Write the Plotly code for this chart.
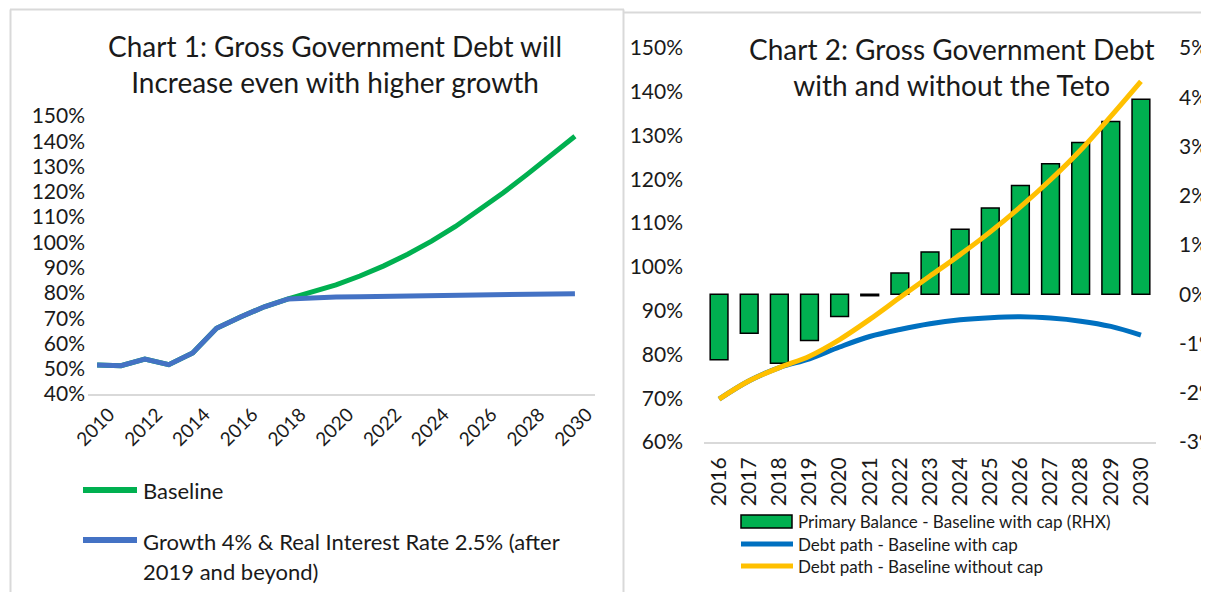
import plotly.graph_objects as go

# ---------------- Data ----------------
years1 = list(range(2010, 2031))
baseline = [51.5, 51.2, 53.8, 51.6, 56.2, 66.0, 70.5, 74.5, 77.6,
            80.2, 83.2, 86.7, 90.7, 95.3, 100.5, 106.3, 112.7, 119.6, 126.9, 134.4, 142.0]
growth4 = [51.5, 51.2, 53.8, 51.6, 56.2, 66.0, 70.5, 74.5, 77.6,
           78.2, 78.4, 78.5, 78.6, 78.7, 78.8, 78.9, 79.0, 79.1, 79.3, 79.5, 79.7]
x1_tickvals = list(range(2010, 2031, 2))
x1_ticktext = [str(v) for v in x1_tickvals]
y1_tickvals = list(range(40, 151, 10))
y1_ticktext = [f"{v}%" for v in y1_tickvals]

years2 = [str(y) for y in range(2016, 2031)]
primary_balance = [-1.33, -0.79, -1.40, -0.94, -0.45, -0.03, 0.43, 0.86, 1.32,
                   1.75, 2.21, 2.65, 3.08, 3.51, 3.96]
debt_with_cap = [69.8, 74.0, 77.0, 79.0, 81.7, 84.1, 85.7, 87.0, 87.9,
                 88.4, 88.6, 88.3, 87.6, 86.4, 84.4]
debt_without_cap = [69.8, 74.0, 77.0, 79.6, 83.4, 88.0, 93.0, 97.9, 102.8,
                    108.0, 113.7, 119.9, 126.7, 134.4, 142.4]
y2_tickvals = list(range(60, 151, 10))
y2_ticktext = [f"{v}%" for v in y2_tickvals]
y3_tickvals = list(range(-3, 6))
y3_ticktext = [f"{v}%" for v in y3_tickvals]

title1 = "Chart 1: Gross Government Debt will<br>Increase even with higher growth"
title2 = "Chart 2: Gross Government Debt<br>with and without the Teto"
leg1 = ["Baseline", "Growth 4% & Real Interest Rate 2.5% (after", "2019 and beyond)"]
leg2 = ["Primary Balance - Baseline with cap (RHX)", "Debt path - Baseline with cap",
        "Debt path - Baseline without cap"]

# ---------------- Styles ----------------
# the page body has an 8px margin; size the figure so it fills the rest of the window
OFF = 8
W, H = 1209 - OFF, 592 - OFF
GREEN = "#00B050"
BLUE1 = "#4472C4"
BLUE2 = "#0070C0"
YELLOW = "#FFC000"
GRAY = "#D9D9D9"
FONT = "Lato"
TXT = "#1a1a1a"

def px(x):
    return (x - OFF) / W

def py(y):
    return 1 - (y - OFF) / H

fig = go.Figure()

# Chart 1
fig.add_trace(go.Scatter(x=years1, y=baseline, mode="lines", line=dict(color=GREEN, width=5),
                         xaxis="x", yaxis="y", showlegend=False))
fig.add_trace(go.Scatter(x=years1, y=growth4, mode="lines", line=dict(color=BLUE1, width=5),
                         xaxis="x", yaxis="y", showlegend=False))

# Chart 2
fig.add_trace(go.Bar(x=years2, y=primary_balance, marker=dict(color=GREEN, line=dict(color="black", width=1.5)),
                     xaxis="x2", yaxis="y2", showlegend=False))
fig.add_trace(go.Scatter(x=years2, y=debt_with_cap, mode="lines", line=dict(color=BLUE2, width=5, shape="spline"),
                         xaxis="x2", yaxis="y3", showlegend=False))
fig.add_trace(go.Scatter(x=years2, y=debt_without_cap, mode="lines", line=dict(color=YELLOW, width=5, shape="spline"),
                         xaxis="x2", yaxis="y3", showlegend=False))

tickfont = dict(family=FONT, size=21, color=TXT)

fig.update_layout(
    width=W, height=H, autosize=False,
    margin=dict(l=0, r=0, t=0, b=0, pad=0, autoexpand=False),
    paper_bgcolor="white", plot_bgcolor="rgba(0,0,0,0)",
    bargap=0.41,
    font=dict(family=FONT, color=TXT),
    xaxis=dict(domain=[px(88), px(595)], range=[2009.62, 2030.84], anchor="y", automargin=False,
               tickvals=x1_tickvals, ticktext=x1_ticktext, tickangle=-45,
               showline=True, linecolor=GRAY, linewidth=2, showgrid=False, zeroline=False,
               ticks="", tickfont=dict(family=FONT, size=19, color=TXT),
               ticklabelstandoff=0, ticklabelshift=12),
    yaxis=dict(domain=[py(394), py(116)], range=[40, 150], anchor="x", automargin=False,
               tickvals=y1_tickvals, ticktext=y1_ticktext, showgrid=False, zeroline=False,
               ticks="", tickfont=tickfont, ticklabelstandoff=2),
    xaxis2=dict(domain=[px(704), px(1156)], anchor="y2", type="category", automargin=False,
                showline=True, linecolor=GRAY, linewidth=2, showgrid=False, zeroline=False,
                ticks="", tickangle=-90, tickfont=tickfont, ticklabelstandoff=5),
    yaxis2=dict(domain=[py(442), py(48)], range=[-3, 5], anchor="x2", side="right", automargin=False,
                tickvals=y3_tickvals, ticktext=y3_ticktext, showgrid=False, zeroline=False,
                ticks="", tickfont=tickfont, ticklabelstandoff=22),
    yaxis3=dict(domain=[py(442), py(48)], range=[60, 150], anchor="x2", overlaying="y2", side="left",
                automargin=False,
                tickvals=y2_tickvals, ticktext=y2_ticktext, showgrid=False, zeroline=False,
                ticks="", tickfont=tickfont, ticklabelstandoff=20),
)

shapes = [
    # panel borders
    dict(type="line", xref="paper", yref="paper", x0=px(10.5), x1=px(10.5), y0=py(9.5), y1=0,
         line=dict(color=GRAY, width=2)),
    dict(type="line", xref="paper", yref="paper", x0=px(10), x1=px(624), y0=py(9.5), y1=py(9.5),
         line=dict(color=GRAY, width=2)),
    dict(type="line", xref="paper", yref="paper", x0=px(623.5), x1=px(623.5), y0=py(9.5), y1=0,
         line=dict(color=GRAY, width=2)),
    dict(type="line", xref="paper", yref="paper", x0=px(623), x1=1, y0=py(12.5), y1=py(12.5),
         line=dict(color=GRAY, width=2)),
    # legend chart 1
    dict(type="line", xref="paper", yref="paper", x0=px(83), x1=px(137), y0=py(490), y1=py(490),
         line=dict(color=GREEN, width=6)),
    dict(type="line", xref="paper", yref="paper", x0=px(83), x1=px(137), y0=py(540), y1=py(540),
         line=dict(color=BLUE1, width=6)),
    # legend chart 2
    dict(type="rect", xref="paper", yref="paper", x0=px(741), x1=px(792), y0=py(528), y1=py(515),
         fillcolor=GREEN, line=dict(color="black", width=1.5)),
    dict(type="line", xref="paper", yref="paper", x0=px(741), x1=px(793), y0=py(544), y1=py(544),
         line=dict(color=BLUE2, width=5)),
    dict(type="line", xref="paper", yref="paper", x0=px(741), x1=px(793), y0=py(566), y1=py(566),
         line=dict(color=YELLOW, width=5)),
]
fig.update_layout(shapes=shapes)

ann = [
    dict(text=title1, x=px(335), y=py(64), xanchor="center", yanchor="middle", showarrow=False,
         font=dict(family=FONT, size=28, color=TXT), align="center"),
    dict(text=title2, x=px(951), y=py(67), xanchor="center", yanchor="middle", showarrow=False,
         font=dict(family=FONT, size=28, color=TXT), align="center"),
    dict(text=leg1[0], x=px(141), y=py(490), xanchor="left", yanchor="middle", showarrow=False,
         font=dict(family=FONT, size=22, color=TXT)),
    dict(text=leg1[1], x=px(141), y=py(541), xanchor="left", yanchor="middle", showarrow=False,
         font=dict(family=FONT, size=22, color=TXT)),
    dict(text=leg1[2], x=px(141), y=py(571), xanchor="left", yanchor="middle", showarrow=False,
         font=dict(family=FONT, size=22, color=TXT)),
    dict(text=leg2[0], x=px(796), y=py(521), xanchor="left", yanchor="middle", showarrow=False,
         font=dict(family=FONT, size=17, color=TXT)),
    dict(text=leg2[1], x=px(796), y=py(544), xanchor="left", yanchor="middle", showarrow=False,
         font=dict(family=FONT, size=17, color=TXT)),
    dict(text=leg2[2], x=px(796), y=py(566), xanchor="left", yanchor="middle", showarrow=False,
         font=dict(family=FONT, size=17, color=TXT)),
]
for a in ann:
    a["xref"] = "paper"
    a["yref"] = "paper"
fig.update_layout(annotations=ann)

fig.write_html("out.html")
